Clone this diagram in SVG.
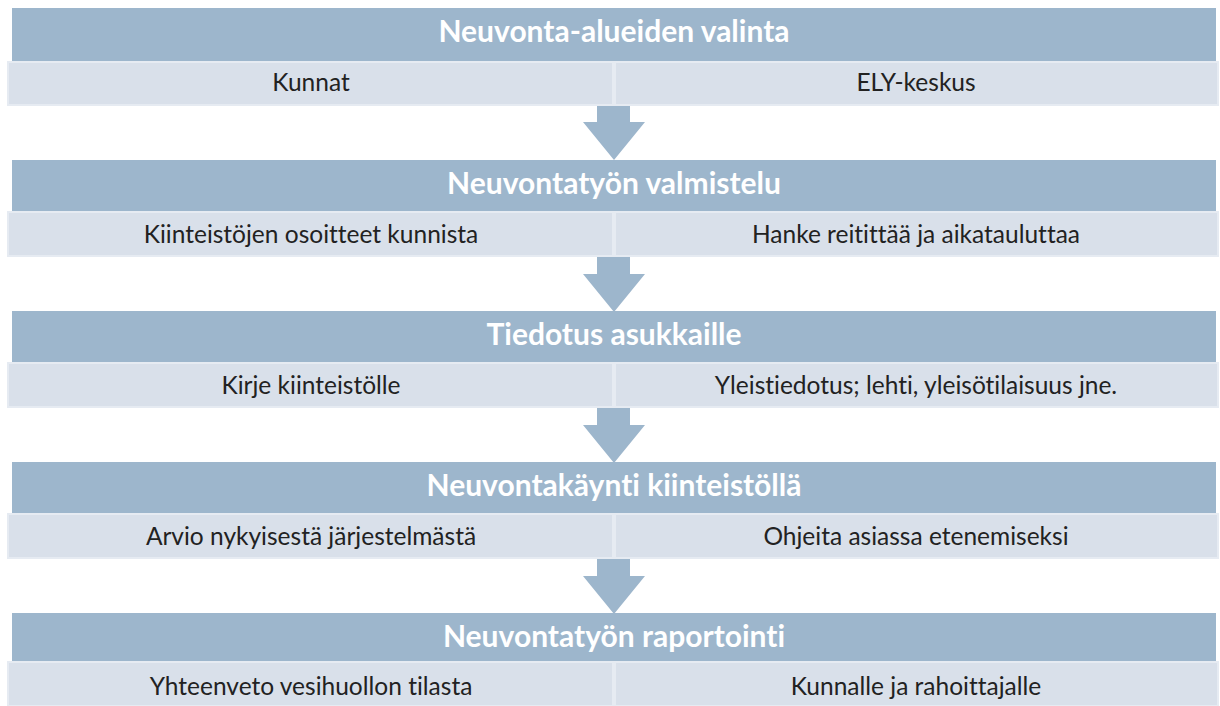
<svg xmlns="http://www.w3.org/2000/svg" width="1220" height="706" viewBox="0 0 1220 706">
<defs>
<style>
.hd{fill:#9db6cc}
.cell{fill:#d9e0ea;stroke:#e6ebf2;stroke-width:2}
.arrow{fill:#9db6cc}
.ht{font-family:Lato,"Open Sans",sans-serif;font-weight:bold;font-size:30px;fill:#ffffff;text-anchor:middle;font-variant-ligatures:none}
.ct{font-family:Lato,"Open Sans",sans-serif;font-size:24.5px;fill:#222222;text-anchor:middle;font-variant-ligatures:none}
</style>
</defs>
<rect width="1220" height="706" fill="#ffffff"/>
<g id="connectors">
<path class="arrow" d="M597,104 H630 V122 H645 L614,160 L583,122 H597 Z"/>
<path class="arrow" d="M597,256 H630 V274 H645 L614,312 L583,274 H597 Z"/>
<path class="arrow" d="M597,407 H630 V425 H645 L614,463 L583,425 H597 Z"/>
<path class="arrow" d="M597,558 H630 V576 H645 L614,614 L583,576 H597 Z"/>
</g>
<g id="step1">
<rect class="hd" x="12" y="8" width="1204" height="53"/>
<text class="ht" x="614" y="42">Neuvonta-alueiden valinta</text>
<rect class="cell" x="8" y="62" width="605" height="43"/>
<rect class="cell" x="615" y="62" width="603" height="43"/>
<text class="ct" x="311" y="91">Kunnat</text>
<text class="ct" x="916" y="91">ELY-keskus</text>
</g>
<g id="step2">
<rect class="hd" x="12" y="160" width="1204" height="51"/>
<text class="ht" x="614" y="194">Neuvontatyön valmistelu</text>
<rect class="cell" x="8" y="212" width="605" height="44"/>
<rect class="cell" x="615" y="212" width="603" height="44"/>
<text class="ct" x="311" y="243">Kiinteistöjen osoitteet kunnista</text>
<text class="ct" x="916" y="243">Hanke reitittää ja aikatauluttaa</text>
</g>
<g id="step3">
<rect class="hd" x="12" y="311" width="1204" height="51"/>
<text class="ht" x="614" y="345">Tiedotus asukkaille</text>
<rect class="cell" x="8" y="363" width="605" height="44"/>
<rect class="cell" x="615" y="363" width="603" height="44"/>
<text class="ct" x="311" y="394">Kirje kiinteistölle</text>
<text class="ct" x="916" y="394">Yleistiedotus; lehti, yleisötilaisuus jne.</text>
</g>
<g id="step4">
<rect class="hd" x="12" y="462" width="1204" height="51"/>
<text class="ht" x="614" y="496">Neuvontakäynti kiinteistöllä</text>
<rect class="cell" x="8" y="514" width="605" height="44"/>
<rect class="cell" x="615" y="514" width="603" height="44"/>
<text class="ct" x="311" y="545">Arvio nykyisestä järjestelmästä</text>
<text class="ct" x="916" y="545">Ohjeita asiassa etenemiseksi</text>
</g>
<g id="step5">
<rect class="hd" x="12" y="613" width="1204" height="48"/>
<text class="ht" x="614" y="647">Neuvontatyön raportointi</text>
<rect class="cell" x="8" y="662" width="605" height="44"/>
<rect class="cell" x="615" y="662" width="603" height="44"/>
<text class="ct" x="311" y="695">Yhteenveto vesihuollon tilasta</text>
<text class="ct" x="916" y="695">Kunnalle ja rahoittajalle</text>
</g>
</svg>
